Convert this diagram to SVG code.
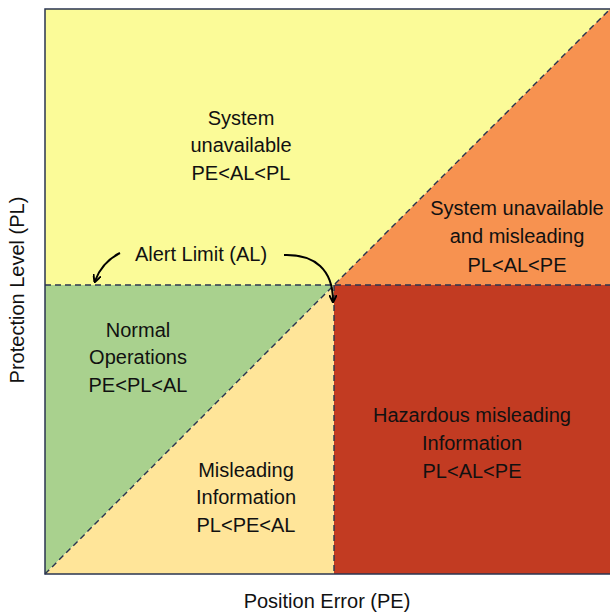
<svg xmlns="http://www.w3.org/2000/svg" width="610" height="614" viewBox="0 0 610 614">
<defs>
<style>
.lbl{font-family:"Liberation Sans",Arial,sans-serif;font-size:20px;fill:#111;text-anchor:middle}
.dash{stroke:#2a3550;stroke-width:1.4;stroke-dasharray:6 4;fill:none}
.arr{stroke:#000;stroke-width:2;fill:none;marker-end:url(#ah)}
</style>
<marker id="ah" viewBox="0 0 10 10" refX="8" refY="5" markerWidth="8" markerHeight="8" markerUnits="userSpaceOnUse" orient="auto">
<path d="M0,0 L10,5 L0,10" fill="none" stroke="#000" stroke-width="2.4"/>
</marker>
</defs>
<rect width="610" height="614" fill="#fff"/>
<g id="regions">
<g id="sys-unavailable"><polygon points="45,9 610,9 334,285 45,285" fill="#FBFB98"/></g>
<g id="sys-unavailable-misleading"><polygon points="610,9 610,285 334,285" fill="#F79250"/></g>
<g id="normal-ops"><polygon points="45,285 334,285 45,574" fill="#A9D18E"/></g>
<g id="misleading"><polygon points="334,285 334,574 45,574" fill="#FFE599"/></g>
<g id="hazardous"><rect x="334" y="285" width="276" height="289" fill="#C23B22"/></g>
</g>
<g id="connectors">
<line class="dash" x1="45" y1="285" x2="610" y2="285"/>
<line class="dash" x1="334" y1="285" x2="334" y2="574"/>
<line class="dash" x1="45" y1="574" x2="610" y2="9"/>
<rect x="45" y="9" width="570" height="565" fill="none" stroke="#2a3550" stroke-width="1.5"/>
<path class="arr" d="M120,253 Q102,262 95,281"/>
<path class="arr" d="M284,255 C315,254 333,270 333,301"/>
</g>
<g id="labels">
<text class="lbl" x="241" y="125">System</text>
<text class="lbl" x="241" y="152">unavailable</text>
<text class="lbl" x="241" y="180">PE&lt;AL&lt;PL</text>
<text class="lbl" x="517" y="215">System unavailable</text>
<text class="lbl" x="517" y="243">and misleading</text>
<text class="lbl" x="517" y="272">PL&lt;AL&lt;PE</text>
<text class="lbl" x="201" y="261">Alert Limit (AL)</text>
<text class="lbl" x="138" y="337">Normal</text>
<text class="lbl" x="138" y="364">Operations</text>
<text class="lbl" x="138" y="392">PE&lt;PL&lt;AL</text>
<text class="lbl" x="472" y="422">Hazardous misleading</text>
<text class="lbl" x="472" y="450">Information</text>
<text class="lbl" x="472" y="478">PL&lt;AL&lt;PE</text>
<text class="lbl" x="246" y="477">Misleading</text>
<text class="lbl" x="246" y="504">Information</text>
<text class="lbl" x="246" y="532">PL&lt;PE&lt;AL</text>
<text class="lbl" x="327" y="608">Position Error (PE)</text>
<text class="lbl" transform="translate(24,290) rotate(-90)">Protection Level (PL)</text>
</g>
</svg>
